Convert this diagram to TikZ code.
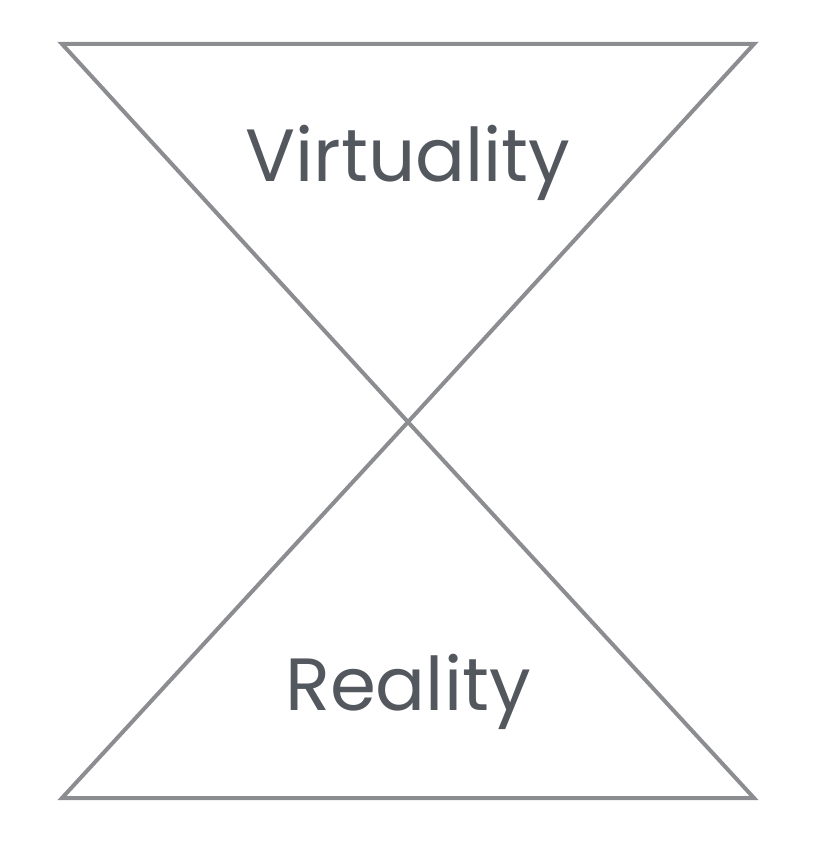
\documentclass[tikz,border=0pt]{standalone}
\usepackage{fontspec}
\setmainfont{Poppins}
\definecolor{linegray}{HTML}{8C8D91}
\definecolor{textgray}{HTML}{53575E}
\begin{document}
\begin{tikzpicture}[x=1pt,y=-1pt,
  tri/.style={draw=linegray,line width=4pt,line join=miter},
  lbl/.style={text=textgray,font=\fontsize{74}{80}\selectfont,inner sep=0pt,anchor=base}]
\useasboundingbox (0,0) rectangle (818,850);
\coordinate (tl) at (62,44);
\coordinate (tr) at (754,44);
\coordinate (c) at (408,422);
\coordinate (bl) at (62,798);
\coordinate (br) at (754,798);
\draw[tri] (tl) -- (tr) -- (c) -- cycle;
\draw[tri] (bl) -- (br) -- (c) -- cycle;
\node[lbl] (virt) at (408,182) {Virtuality};
\node[lbl] (real) at (408,710) {Reality};
\end{tikzpicture}
\end{document}
